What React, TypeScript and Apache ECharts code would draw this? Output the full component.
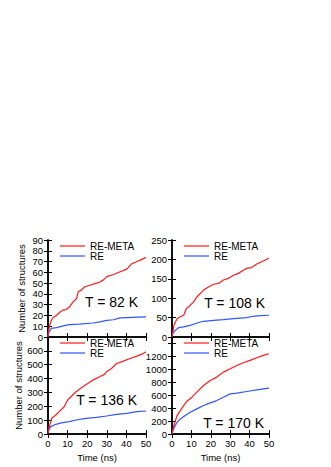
import React, { useEffect, useRef } from "react";
import * as echarts from "echarts";

const panelTitles = ["T = 82 K", "T = 108 K", "T = 136 K", "T = 170 K"];
const seriesNames = ["RE-META", "RE"];
const yMaxes = [90, 250, 700, 1500];
const yIntervals = [10, 50, 100, 200];
const yLabelLimits = [90, 250, 600, 1200];
const xMax = 50;
const xInterval = 10;

// T = 82 K
const meta82T = [0, 0.3, 0.9, 1.7, 2.6, 4.3, 6, 7.7, 9.4, 11, 12.8, 14.6, 15.4, 17, 18.8, 21.4, 24.8, 26.5, 28.3, 30, 33.4, 36.8, 40.2, 42.8, 45.4, 48, 50];
const meta82N = [0, 6, 11, 15.5, 18, 20, 23, 25, 25.5, 28, 32.6, 35.7, 42, 43.5, 46.6, 48, 50, 51, 53, 56, 58, 60.5, 63, 68, 70, 72, 74];
const re82T = [0, 0.9, 1.7, 4.3, 9.4, 11, 16, 23, 26.5, 30, 33.4, 36.8, 40, 50];
const re82N = [1.5, 6, 8, 8.7, 11, 11.5, 12, 13, 14, 15.5, 16, 17.7, 18, 18.6];

// T = 108 K
const meta108T = [0, 0.3, 1, 2.6, 4.3, 6, 7.4, 9.4, 11, 12.8, 14.6, 16.3, 18.8, 21.4, 24, 26.5, 29, 31.7, 34.2, 36.8, 38.5, 41, 43.7, 46.2, 50];
const meta108N = [0, 8.6, 30, 47, 52, 56, 73, 82, 90, 103, 112, 121, 129, 136, 138, 147, 151, 159, 164, 172, 177, 179, 188, 194, 203];
const re108T = [0, 1.7, 3.4, 6, 9.4, 12.8, 16.3, 21.4, 26.5, 31.7, 38.5, 41.8, 45.4, 50];
const re108N = [7, 17, 24, 26, 30, 36, 40.5, 43, 45, 47.4, 50, 53.4, 55, 56];

// T = 136 K
const meta136T = [0, 0.2, 0.9, 1.9, 4, 5.7, 8.3, 10, 11.7, 14.3, 17.8, 20.3, 22.9, 26.4, 29, 29.8, 32.4, 35, 38.4, 41.9, 45.3, 47.9, 50];
const meta136N = [0, 29, 65, 113, 137, 161, 197, 245, 269, 305, 341, 365, 389, 413, 432, 449, 473, 509, 526, 545, 562, 576, 593];
const re136T = [0, 1.4, 4, 7.4, 10.9, 14.3, 19.5, 24.7, 29.8, 35, 40.2, 45.3, 50];
const re136N = [17, 53, 70, 82, 89, 101, 113, 120, 130, 142, 149, 161, 166];

// T = 170 K
const meta170T = [0, 0.3, 1.2, 2.6, 4.3, 6, 7.7, 10.3, 12.8, 16.3, 19.7, 23.1, 26.5, 30, 33.4, 36.8, 40.2, 43.7, 47.1, 50];
const meta170N = [0, 52, 155, 285, 362, 440, 507, 569, 647, 750, 828, 880, 957, 1009, 1060, 1102, 1138, 1179, 1216, 1241];
const re170T = [0, 0.3, 1.2, 2.6, 4.3, 6.8, 9.4, 12.8, 16.3, 19.7, 23.1, 26.5, 30, 33.4, 38.5, 43.7, 50];
const re170N = [0, 36, 103, 181, 233, 285, 336, 388, 440, 481, 517, 569, 621, 631, 657, 683, 709];

const panelData = [
  [[meta82T, meta82N], [re82T, re82N]],
  [[meta108T, meta108N], [re108T, re108N]],
  [[meta136T, meta136N], [re136T, re136N]],
  [[meta170T, meta170N], [re170T, re170N]],
];

const FONT = "'Liberation Sans', Arial, sans-serif";
const COLORS = ["#ff1a1a", "#3355ff"];

const grids = [
  { left: 48, top: 240, width: 98, height: 97 },
  { left: 172, top: 240, width: 97, height: 97 },
  { left: 48, top: 337, width: 98, height: 97 },
  { left: 172, top: 337, width: 97, height: 97 },
];

const zip = (a: number[], b: number[]) => a.map((v, i) => [v, b[i]]);

export default function App() {
  const ref = useRef<HTMLDivElement>(null);
  useEffect(() => {
    if (!ref.current) return;
    const chart = echarts.init(ref.current, null, { renderer: "svg" });
    const axisLine = { show: true, lineStyle: { color: "#000", width: 1.5 } };
    const tick = { show: true, inside: true, length: 4, lineStyle: { color: "#000", width: 1 } };
    const xAxis: any[] = [];
    const yAxis: any[] = [];
    const series: any[] = [];
    const graphic: any[] = [];
    grids.forEach((g, i) => {
      const bottomRow = i >= 2;
      const leftCol = i % 2 === 0;
      xAxis.push({
        type: "value", gridIndex: i, min: 0, max: xMax, interval: xInterval, position: "bottom",
        axisLine, axisTick: tick, splitLine: { show: false },
        axisLabel: { show: bottomRow, color: "#000", fontSize: 9.5, fontFamily: FONT, margin: 4 },
        name: bottomRow ? "Time (ns)" : "", nameLocation: "middle", nameGap: 18,
        nameTextStyle: { color: "#000", fontSize: 9.5, fontFamily: FONT },
      });
      xAxis.push({
        type: "value", gridIndex: i, min: 0, max: xMax, interval: xInterval, position: "top",
        axisLine, axisTick: tick, splitLine: { show: false }, axisLabel: { show: false },
      });
      const lim = yLabelLimits[i];
      yAxis.push({
        type: "value", gridIndex: i, min: 0, max: yMaxes[i], interval: yIntervals[i], position: "left",
        axisLine, axisTick: tick, splitLine: { show: false },
        axisLabel: {
          color: "#000", fontSize: 9.5, fontFamily: FONT, margin: 5,
          formatter: (v: number) => (v > lim ? "" : String(v)),
        },
        name: leftCol ? "Number of structures" : "", nameLocation: "middle", nameGap: 22,
        nameTextStyle: { color: "#000", fontSize: 9.5, fontFamily: FONT },
      });
      yAxis.push({
        type: "value", gridIndex: i, min: 0, max: yMaxes[i], interval: yIntervals[i], position: "right",
        axisLine, axisTick: tick, splitLine: { show: false }, axisLabel: { show: false },
      });
      panelData[i].forEach((d, k) => {
        series.push({
          type: "line", name: seriesNames[k], xAxisIndex: i * 2, yAxisIndex: i * 2,
          data: zip(d[0] as number[], d[1] as number[]), showSymbol: false, symbol: "none",
          lineStyle: { color: COLORS[k], width: 1.2 }, itemStyle: { color: COLORS[k] },
          z: k === 0 ? 3 : 2,
        });
      });
      // legend
      const lx = g.left + 12;
      const ly = g.top + 6;
      seriesNames.forEach((n, k) => {
        const y = ly + k * 10;
        graphic.push({
          type: "line", shape: { x1: lx, y1: y, x2: lx + 25, y2: y },
          style: { stroke: COLORS[k], lineWidth: 1.2 },
        });
        graphic.push({
          type: "text", x: lx + 30, y, style: {
            text: n, fill: "#000", font: `10px ${FONT}`, textVerticalAlign: "middle", textAlign: "left",
          },
        });
      });
    });
    const titlePos = [
      [138, 302], [265, 303], [137, 400], [264, 423],
    ];
    panelTitles.forEach((t, i) => {
      graphic.push({
        type: "text", x: titlePos[i][0], y: titlePos[i][1], style: {
          text: t, fill: "#000", font: `14px ${FONT}`, textAlign: "right", textVerticalAlign: "middle",
        },
      });
    });
    chart.setOption({
      animation: false,
      backgroundColor: "#fff",
      grid: grids.map((g) => ({ ...g, containLabel: false })),
      xAxis, yAxis, series, graphic,
    });
    return () => chart.dispose();
  }, []);
  return (
    <div
      ref={ref}
      style={{ position: "fixed", left: 0, top: 0, width: 331, height: 467 }}
    />
  );
}
